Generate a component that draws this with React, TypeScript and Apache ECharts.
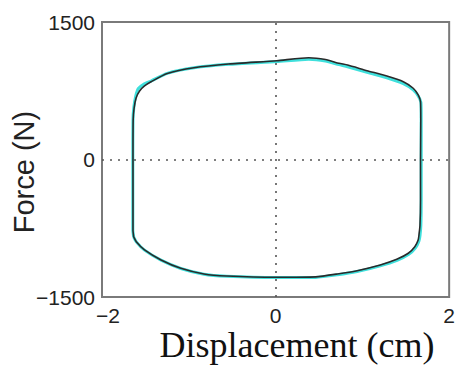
import React, { useEffect, useRef } from "react";
import * as echarts from "echarts";

// Axis ticks
const xTicks = [-2, 0, 2];
const yTicks = [-1500, 0, 1500];

// Black (measured) loop: displacement (cm) and force (N)
const blackDisp = [
  -1.635, -1.643, -1.643, -1.643, -1.641, -1.63, -1.607, -1.567, -1.51, -1.43, -1.248, -0.94, -0.541,
  0.014, 0.382, 0.575, 0.73, 0.83, 1.054, 1.282, 1.472, 1.586, 1.643, 1.67, 1.673, 1.67, 1.67, 1.664,
  1.652, 1.643, 1.604, 1.529, 1.396, 1.206, 0.94, 0.712, 0.462, 0.006, -0.564, -0.826, -1.092, -1.32,
  -1.51, -1.605, -1.635,
];
const blackForce = [
  -845, -769, -442, -5, 431, 562, 671, 747, 802, 851, 938, 1001, 1042,
  1078, 1110, 1090, 1050, 1030, 969, 911, 849, 777, 704, 631, 431, -5, -442, -715,
  -824, -878, -951, -1023, -1089, -1151, -1213, -1249, -1280, -1285, -1271, -1249, -1187, -1096,
  -987, -897, -845,
];

// Cyan (model) loop
const cyanDisp = [
  -1.635, -1.645, -1.645, -1.645, -1.643, -1.633, -1.612, -1.58, -1.52, -1.43, -1.248, -0.94, -0.541,
  0.014, 0.382, 0.575, 0.73, 0.83, 1.054, 1.282, 1.472, 1.586, 1.645, 1.675, 1.678, 1.678, 1.678, 1.674,
  1.664, 1.652, 1.612, 1.535, 1.4, 1.206, 0.94, 0.712, 0.462, 0.006, -0.564, -0.826, -1.092, -1.32,
  -1.51, -1.605, -1.635,
];
const cyanForce = [
  -845, -769, -442, -5, 431, 570, 690, 775, 820, 858, 940, 1000, 1038,
  1068, 1095, 1075, 1035, 1012, 950, 892, 828, 760, 690, 620, 431, -5, -442, -715,
  -830, -890, -965, -1035, -1100, -1160, -1222, -1258, -1286, -1288, -1273, -1251, -1189, -1098,
  -989, -899, -845,
];

const xTitle = "Displacement (cm)";
const yTitle = "Force (N)";

const fmt = (v: number) => (v < 0 ? "\u2212" + Math.abs(v) : String(v));
const fmtX = (v: number) => (v < 0 ? "{n|\u2212" + Math.abs(v) + "}" : String(v));

export default function App() {
  const ref = useRef<HTMLDivElement>(null);
  useEffect(() => {
    if (!ref.current) return;
    const chart = echarts.init(ref.current, undefined, { renderer: "svg" });
    const black = blackDisp.map((x, i) => [x, blackForce[i]]);
    const cyan = cyanDisp.map((x, i) => [x, cyanForce[i]]);
    chart.setOption({
      animation: false,
      backgroundColor: "#ffffff",
      grid: {
        left: 102,
        right: 5,
        top: 22,
        bottom: 68,
        show: true,
        borderColor: "#7a7a7a",
        borderWidth: 2,
        backgroundColor: "transparent",
      },
      xAxis: {
        type: "value",
        min: xTicks[0],
        max: xTicks[xTicks.length - 1],
        interval: xTicks[1] - xTicks[0],
        axisLine: { show: false },
        axisTick: { show: false },
        splitLine: { show: false },
        axisLabel: {
          formatter: fmtX,
          margin: 8,
          fontFamily: "Liberation Sans",
          fontSize: 21,
          color: "#222",
          showMinLabel: true,
          showMaxLabel: true,
          rich: {
            n: {
              fontFamily: "Liberation Sans",
              fontSize: 21,
              color: "#222",
              padding: [0, 0, 0, 12],
            },
          },
        },
      },
      yAxis: {
        type: "value",
        min: yTicks[0],
        max: yTicks[yTicks.length - 1],
        interval: yTicks[1] - yTicks[0],
        axisLine: { show: false },
        axisTick: { show: false },
        splitLine: { show: false },
        axisLabel: {
          formatter: fmt,
          margin: 7,
          fontFamily: "Liberation Sans",
          fontSize: 21,
          color: "#222",
          showMinLabel: true,
          showMaxLabel: true,
        },
      },
      graphic: [
        {
          type: "text",
          x: 297,
          y: 345,
          style: {
            text: xTitle,
            fontFamily: "Liberation Serif",
            fontSize: 36,
            fill: "#111",
            align: "center",
            verticalAlign: "middle",
          },
        },
        {
          type: "text",
          x: 24,
          y: 172,
          rotation: Math.PI / 2,
          style: {
            text: yTitle,
            fontFamily: "Liberation Sans",
            fontSize: 29,
            fill: "#222",
            align: "center",
            verticalAlign: "middle",
          },
        },
      ],
      series: [
        {
          type: "line",
          data: [],
          silent: true,
          markLine: {
            silent: true,
            symbol: "none",
            label: { show: false },
            lineStyle: { type: [2, 6], color: "#555", width: 1.6 },
            data: [{ xAxis: 0 }, { yAxis: 0 }],
          },
        },
        {
          type: "line",
          data: cyan,
          showSymbol: false,
          symbol: "none",
          smooth: 0.2,
          lineStyle: { color: "#3fe0dc", width: 3 },
          z: 3,
        },
        {
          type: "line",
          data: black,
          showSymbol: false,
          symbol: "none",
          smooth: 0.2,
          lineStyle: { color: "#2a2a2a", width: 1.6 },
          z: 4,
        },
      ],
    });
    return () => chart.dispose();
  }, []);
  return (
    <div
      ref={ref}
      style={{ position: "fixed", left: 0, top: 0, width: 458, height: 365 }}
    />
  );
}
